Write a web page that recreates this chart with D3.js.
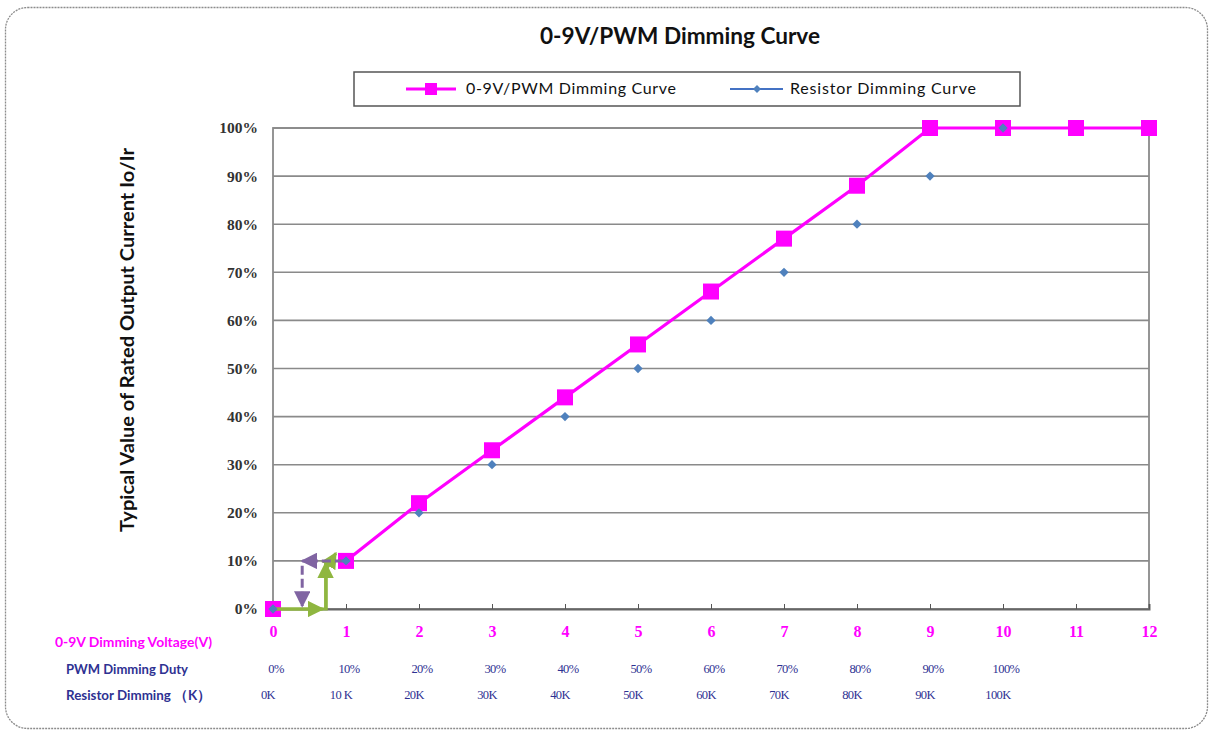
<!DOCTYPE html>
<html><head><meta charset="utf-8">
<script src="https://cdn.jsdelivr.net/npm/d3@7"></script>
<style>
html,body{margin:0;padding:0;background:#fff;}
svg{display:block;}
</style>
</head><body>
<svg id="chart" width="1210" height="731"></svg>
<script>
// ---- data ----
const voltageTicks = [0,1,2,3,4,5,6,7,8,9,10,11,12];
const pwmCurveX = [0,1,2,3,4,5,6,7,8,9,10,11,12];
const pwmCurveY = [0,10,22,33,44,55,66,77,88,100,100,100,100];
const resistorX = [0,1,2,3,4,5,6,7,8,9,10];
const resistorY = [0,10,20,30,40,50,60,70,80,90,100];
const yTicks = [0,10,20,30,40,50,60,70,80,90,100];
const pwmDutyLabels = ["0%","10%","20%","30%","40%","50%","60%","70%","80%","90%","100%"];
const resistorLabels = ["0K","10 K","20K","30K","40K","50K","60K","70K","80K","90K","100K"];
const seriesNames = ["0-9V/PWM Dimming Curve","Resistor Dimming Curve"];
const rowLabels = ["0-9V Dimming Voltage(V)","PWM Dimming Duty","Resistor Dimming \uFF08K\uFF09"];
const titleText = "0-9V/PWM Dimming Curve";
const yAxisTitle = "Typical Value of Rated Output Current Io/Ir";
// annotation arrows [x1,y1,x2,y2] in data units
const greenArrows = [[0,0,0.68,0],[0.72,0,0.72,9.5],[0.74,8.5,0.86,11.6]];
const greenPath = [[0,0],[0.73,0],[0.73,7]];
const purpleArrows = [[0.97,10,0.4,10],[0.4,9.0,0.4,0.6]];

const svg = d3.select("#chart");
const M = {l:273, r:1149, t:128, b:609};
const x = d3.scaleLinear().domain([0,12]).range([M.l,M.r]);
const y = d3.scaleLinear().domain([0,100]).range([M.b,M.t]);

// outer dashed rounded frame
svg.append("rect").attr("x",5.5).attr("y",7.5).attr("width",1202).attr("height",721)
  .attr("rx",22).attr("fill","none").attr("stroke","#8c8c8c").attr("stroke-width",1.3)
  .attr("stroke-dasharray","2,1");

// defs arrows
const defs = svg.append("defs");
function marker(id,color,w){
  defs.append("marker").attr("id",id).attr("viewBox","0 0 10 10").attr("refX",9).attr("refY",5)
    .attr("markerWidth",w).attr("markerHeight",w).attr("orient","auto")
    .append("path").attr("d","M0,0L10,5L0,10z").attr("fill",color);
}
marker("gArrow","#8fb640",5.5);
marker("pArrow","#8064a2",5.5);

// title
svg.append("text").attr("x",680).attr("y",44).attr("text-anchor","middle")
  .attr("font-family","Lato, 'Open Sans', sans-serif").attr("font-weight","bold")
  .attr("font-size",22).attr("textLength",280).attr("lengthAdjust","spacingAndGlyphs")
  .attr("fill","#111").text(titleText);

// legend
const lg = svg.append("g");
lg.append("rect").attr("x",354).attr("y",72).attr("width",666).attr("height",34)
  .attr("fill","#fff").attr("stroke","#555").attr("stroke-width",1.5);
lg.append("line").attr("x1",406).attr("x2",456).attr("y1",89).attr("y2",89)
  .attr("stroke","#ff00ff").attr("stroke-width",3);
lg.append("rect").attr("x",425).attr("y",83).attr("width",12).attr("height",12).attr("fill","#ff00ff");
lg.append("text").attr("x",466).attr("y",94).attr("font-family","Lato, sans-serif")
  .attr("font-size",16).attr("textLength",210).attr("lengthAdjust","spacing")
  .attr("fill","#111").text(seriesNames[0]);
lg.append("line").attr("x1",730).attr("x2",783).attr("y1",89).attr("y2",89)
  .attr("stroke","#4472c4").attr("stroke-width",2);
lg.append("path").attr("d",d3.symbol(d3.symbolDiamond2,40)()).attr("transform","translate(757,89)")
  .attr("fill","#4f81bd");
lg.append("text").attr("x",790).attr("y",94).attr("font-family","Lato, sans-serif")
  .attr("font-size",16).attr("textLength",186).attr("lengthAdjust","spacing")
  .attr("fill","#111").text(seriesNames[1]);

// gridlines
svg.append("g").selectAll("line").data(yTicks).join("line")
  .attr("x1",M.l).attr("x2",M.r).attr("y1",d=>y(d)).attr("y2",d=>y(d))
  .attr("stroke","#8a8a8a").attr("stroke-width",1.6);
// plot border
svg.append("rect").attr("x",M.l).attr("y",M.t).attr("width",M.r-M.l).attr("height",M.b-M.t)
  .attr("fill","none").attr("stroke","#8a8a8a").attr("stroke-width",1.8);

// x axis
const xAxis = d3.axisBottom(x).tickValues(voltageTicks).tickSize(-5).tickPadding(17).tickFormat(d3.format("d"));
const xg = svg.append("g").attr("transform",`translate(0,${M.b})`).call(xAxis);
xg.select(".domain").attr("stroke","#666").attr("stroke-width",2);
xg.selectAll(".tick line").attr("stroke","#555");
xg.selectAll(".tick text").attr("fill","#ff00ff").attr("font-family","'Liberation Serif', serif")
  .attr("font-weight","bold").attr("font-size",16);

// y axis
const yAxis = d3.axisLeft(y).tickValues(yTicks).tickSize(0).tickPadding(15).tickFormat(d=>d+"%");
const yg = svg.append("g").attr("transform",`translate(${M.l},0)`).call(yAxis);
yg.select(".domain").remove();
yg.selectAll(".tick text").attr("fill","#333").attr("font-family","'Liberation Serif', serif")
  .attr("font-weight","bold").attr("font-size",15.5);

// y axis title
svg.append("text").attr("transform","translate(134,340) rotate(-90)").attr("text-anchor","middle")
  .attr("font-family","Lato, sans-serif").attr("font-weight","bold").attr("font-size",18)
  .attr("textLength",384).attr("lengthAdjust","spacingAndGlyphs")
  .attr("fill","#111").text(yAxisTitle);

// row labels
const rowY = [647,674,700];
const rowX = [55,66,66];
const rowLen = [157,122,145];
const rowColor = ["#ff00ff","#2e3192","#2e3192"];
svg.append("g").selectAll("text").data(rowLabels).join("text")
  .attr("x",(d,i)=>rowX[i]).attr("y",(d,i)=>rowY[i])
  .attr("font-family","Lato, sans-serif").attr("font-weight","bold").attr("font-size",13.5)
  .attr("textLength",(d,i)=>rowLen[i]).attr("lengthAdjust","spacingAndGlyphs")
  .attr("fill",(d,i)=>rowColor[i]).text(d=>d);

svg.append("g").selectAll("text").data(pwmDutyLabels).join("text")
  .attr("x",(d,i)=>x(i)+3).attr("y",673).attr("text-anchor","middle")
  .attr("font-family","'Liberation Serif', serif").attr("font-size",12.5).attr("letter-spacing",-0.6)
  .attr("fill","#2e3192").text(d=>d);
svg.append("g").selectAll("text").data(resistorLabels).join("text")
  .attr("x",(d,i)=>x(i)-5).attr("y",699).attr("text-anchor","middle")
  .attr("font-family","'Liberation Serif', serif").attr("font-size",12.5).attr("letter-spacing",-0.6)
  .attr("fill","#2e3192").text(d=>d);

// magenta line (drawn from the 1 V point onward, as in the source)
const line = d3.line().x(d=>x(d[0])).y(d=>y(d[1]));
const pwmData = pwmCurveX.map((v,i)=>[v,pwmCurveY[i]]);
svg.append("path").datum(pwmData.slice(1)).attr("d",line).attr("fill","none")
  .attr("stroke","#ff00ff").attr("stroke-width",3.2);

// magenta squares
svg.append("g").selectAll("rect").data(pwmData).join("rect")
  .attr("x",d=>x(d[0])-8).attr("y",d=>y(d[1])-8).attr("width",16).attr("height",16)
  .attr("fill","#ff00ff");

// annotations
svg.append("path").datum(greenPath).attr("d",line).attr("fill","none")
  .attr("stroke","#8fb640").attr("stroke-width",3);
svg.append("g").selectAll("line").data(greenArrows).join("line")
  .attr("x1",d=>x(d[0])).attr("y1",d=>y(d[1])).attr("x2",d=>x(d[2])).attr("y2",d=>y(d[3]))
  .attr("stroke","#8fb640").attr("stroke-width",3).attr("marker-end","url(#gArrow)");

svg.append("g").selectAll("line").data(purpleArrows).join("line")
  .attr("x1",d=>x(d[0])).attr("y1",d=>y(d[1])).attr("x2",d=>x(d[2])).attr("y2",d=>y(d[3]))
  .attr("stroke","#8064a2").attr("stroke-width",3).attr("stroke-dasharray","9,4")
  .attr("marker-end","url(#pArrow)");

// blue diamonds
svg.append("g").selectAll("path").data(resistorX.map((v,i)=>[v,resistorY[i]])).join("path")
  .attr("d",d3.symbol(d3.symbolDiamond2,55)())
  .attr("transform",d=>`translate(${x(d[0])},${y(d[1])})`).attr("fill","#4f81bd");
</script>
</body></html>
